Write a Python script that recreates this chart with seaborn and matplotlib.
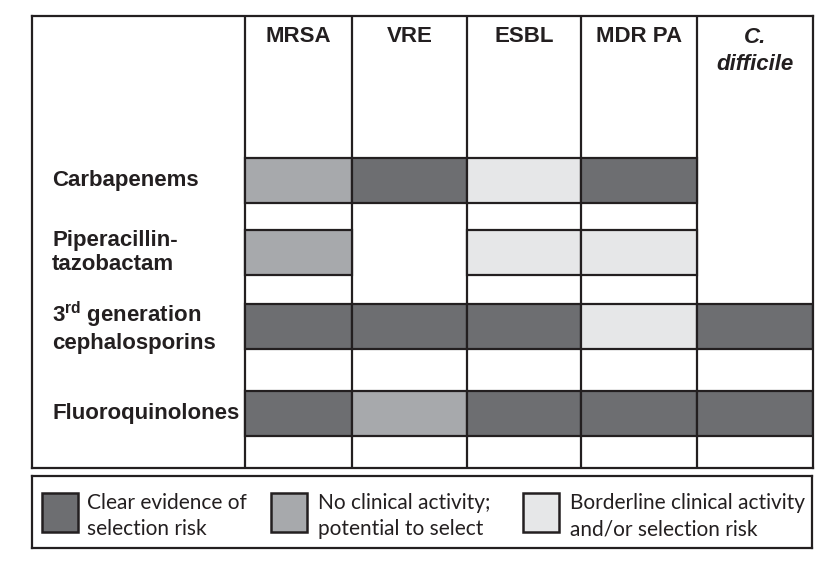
import numpy as np
import matplotlib
matplotlib.use("Agg")
import matplotlib.pyplot as plt
from matplotlib.patches import Rectangle
import seaborn as sns

# Organisms (columns) and antibiotic classes (rows)
organisms = ["MRSA", "VRE", "ESBL", "MDR PA", "C.\ndifficile"]
drugs = ["Carbapenems", "Piperacillin-\ntazobactam",
         "3$^{\\mathrm{rd}}$ generation\ncephalosporins", "Fluoroquinolones"]

# risk level per cell: 0 = none, 1 = borderline, 2 = no clinical activity, 3 = clear evidence
carbapenems = [2, 3, 1, 3, 0]
pip_tazo = [2, 0, 1, 1, 0]
cephalosporins = [3, 3, 3, 1, 3]
fluoroquinolones = [3, 2, 3, 3, 3]
risk = np.array([carbapenems, pip_tazo, cephalosporins, fluoroquinolones])

legend_labels = ["Clear evidence of\nselection risk",
                 "No clinical activity;\npotential to select",
                 "Borderline clinical activity\nand/or selection risk"]

sns.set_theme(style="white")
plt.rcParams["font.family"] = ["Liberation Sans", "DejaVu Sans"]
plt.rcParams["mathtext.fontset"] = "custom"
plt.rcParams["mathtext.rm"] = "Liberation Sans:bold"
plt.rcParams["mathtext.it"] = "Liberation Sans:bold:italic"
plt.rcParams["mathtext.bf"] = "Liberation Sans:bold"

greys = sns.color_palette(["#ffffff", "#e6e7e8", "#a7a9ac", "#6d6e71"])
edge = "#231f20"

W, H = 837, 563
fig = plt.figure(figsize=(W / 100, H / 100), dpi=100)

# main table (units roughly in pixels)
ax = fig.add_axes([32 / W, (H - 468) / H, 781 / W, 452 / H])
label_w = 213
col_widths = np.array([107, 115, 114, 116, 116])
col_left = np.concatenate([[0], np.cumsum(col_widths)[:-1]])
header_h = 142
bar_h = 45
gaps = [27, 29, 42, 32]
tops = header_h + np.concatenate([[0], np.cumsum(bar_h + np.array(gaps[:-1]))])
centers = tops + bar_h / 2

ax.set_xlim(-label_w, col_widths.sum())
ax.set_ylim(header_h + len(drugs) * bar_h + sum(gaps), 0)

for x in col_left:
    ax.axvline(x, color=edge, lw=1.6, zorder=1)

for i in range(len(drugs)):
    for j in range(len(organisms)):
        if risk[i, j] > 0:
            ax.barh(centers[i], col_widths[j], left=col_left[j], height=bar_h,
                    color=greys[risk[i, j]], edgecolor=edge, linewidth=1.6,
                    align="center", zorder=2)

for j, org in enumerate(organisms):
    style = "italic" if "difficile" in org else "normal"
    ax.text(col_left[j] + col_widths[j] / 2, 35 if "difficile" in org else 20, org,
            ha="center", va="center", fontsize=16, fontweight="bold",
            fontstyle=style, linespacing=1.4, color=edge)

for i, drug in enumerate(drugs):
    ax.text(-label_w + 20, centers[i], drug, ha="left", va="center",
            fontsize=16, fontweight="bold", linespacing=1.2, color=edge)

ax.set_xticks([])
ax.set_yticks([])
for s in ax.spines.values():
    s.set_color(edge)
    s.set_linewidth(1.6)
    s.set_visible(True)

# legend box
lax = fig.add_axes([32 / W, (H - 548) / H, 780 / W, 72 / H])
lax.set_xlim(0, 780)
lax.set_ylim(72, 0)
lax.set_xticks([])
lax.set_yticks([])
for s in lax.spines.values():
    s.set_color(edge)
    s.set_linewidth(1.6)
    s.set_visible(True)

patch_x = [10, 239, 491]
text_x = [55, 286, 538]
for k, lab in enumerate(legend_labels):
    lax.add_patch(Rectangle((patch_x[k], 17), 36, 39, facecolor=greys[3 - k],
                            edgecolor=edge, linewidth=1.8))
    lax.text(text_x[k], 40, lab, ha="left", va="center", fontsize=15,
             family=["Lato", "DejaVu Sans"], linespacing=1.42, color=edge)

fig.savefig("out.png", dpi=100)
